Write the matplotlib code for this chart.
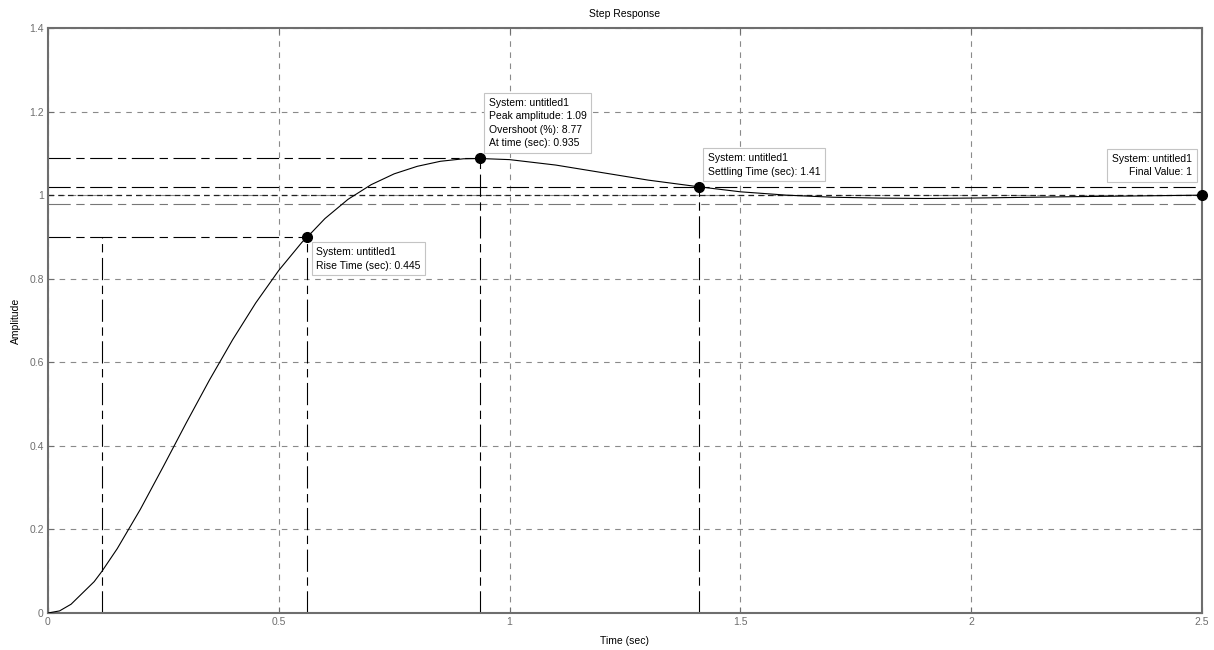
import matplotlib.pyplot as plt

plt.rcParams['font.family'] = ['Liberation Sans', 'DejaVu Sans']
plt.rcParams['font.size'] = 7.5
plt.rcParams['lines.scale_dashes'] = False

# step response samples
time = [0, 0.025, 0.05, 0.1, 0.117, 0.15, 0.2, 0.25, 0.3, 0.35, 0.4, 0.45, 0.5,
        0.55, 0.562, 0.6, 0.65, 0.7, 0.75, 0.8, 0.85, 0.9, 0.935, 1.0, 1.1,
        1.2, 1.3, 1.41, 1.5, 1.6, 1.7, 1.8, 1.9, 2.0, 2.2, 2.5]
amplitude = [0, 0.005, 0.021, 0.075, 0.100, 0.154, 0.248, 0.351, 0.456, 0.558,
             0.654, 0.742, 0.820, 0.887, 0.900, 0.944, 0.990, 1.025, 1.051,
             1.069, 1.081, 1.087, 1.0877, 1.085, 1.072, 1.054, 1.036, 1.020,
             1.008, 1.000, 0.995, 0.993, 0.992, 0.993, 0.996, 1.000]

# characteristics
rise_start, rise_end, rise_lo, rise_hi = 0.117, 0.562, 0.1, 0.9
rise_time = 0.445
peak_time, peak_amp, overshoot = 0.935, 1.0877, 8.77
settle_time, settle_hi, settle_lo = 1.41, 1.02, 0.98
final_value = 1.0
t_end = 2.5

fig = plt.figure(figsize=(12.14, 6.5), dpi=100)
ax = fig.add_axes([48 / 1214, 37 / 650, 1154 / 1214, 585 / 650])

ax.set_xlim(0, t_end)
ax.set_ylim(0, 1.4)
ax.set_xticks([0, 0.5, 1, 1.5, 2, 2.5])
ax.set_xticklabels(['0', '0.5', '1', '1.5', '2', '2.5'])
ax.set_yticks([0, 0.2, 0.4, 0.6, 0.8, 1, 1.2, 1.4])
ax.set_yticklabels(['0', '0.2', '0.4', '0.6', '0.8', '1', '1.2', '1.4'])

grey = '#6e6e6e'
for s in ax.spines.values():
    s.set_color(grey)
    s.set_linewidth(1.5)
ax.tick_params(direction='in', length=4, width=0.8, colors=grey,
               top=True, right=True, labelsize=7.5, pad=3)
ax.grid(True, color='#8a8a8a', linestyle=(0, (4, 4)), linewidth=0.8)
ax.set_axisbelow(True)

dashdot = (0, (16, 4, 6, 4))
kw = dict(color='black', linewidth=0.8, linestyle=dashdot, zorder=2)

# final value and settling bounds
ax.axhline(final_value, color='#222222', linewidth=0.9, linestyle=(0, (4, 3)), zorder=2)
ax.axhline(settle_hi, **kw)
ax.axhline(settle_lo, color='#777777', linewidth=0.8, linestyle=dashdot, zorder=2)

# rise time markers
ax.plot([0, rise_end], [rise_hi, rise_hi], **kw)
ax.plot([rise_start, rise_start], [0, rise_hi], **kw)
ax.plot([rise_end, rise_end], [0, rise_hi], **kw)

# peak markers
ax.plot([0, peak_time], [peak_amp, peak_amp], **kw)
ax.plot([peak_time, peak_time], [0, peak_amp], **kw)

# settling marker
ax.plot([settle_time, settle_time], [0, settle_hi], **kw)

ax.plot(time, amplitude, color='black', linewidth=0.8, zorder=3)

pts_t = [rise_end, peak_time, settle_time, t_end]
pts_y = [rise_hi, peak_amp, settle_hi, final_value]
ax.plot(pts_t, pts_y, 'o', color='black', markersize=7, zorder=5, clip_on=False)

box = dict(boxstyle='square,pad=0.45', facecolor='white', edgecolor='#c4c4c4', linewidth=0.8)
akw = dict(textcoords='offset pixels', fontsize=7.5, bbox=box, zorder=6,
           linespacing=1.45, annotation_clip=False)

ax.annotate(f'System: untitled1\nRise Time (sec): {rise_time}',
            xy=(rise_end, rise_hi), xytext=(9, -10), ha='left', va='top', **akw)
ax.annotate(f'System: untitled1\nPeak amplitude: {peak_amp:.2f}\n'
            f'Overshoot (%): {overshoot}\nAt time (sec): {peak_time}',
            xy=(peak_time, peak_amp), xytext=(9, 10), ha='left', va='bottom', **akw)
ax.annotate(f'System: untitled1\nSettling Time (sec): {settle_time}',
            xy=(settle_time, settle_hi), xytext=(9, 10), ha='left', va='bottom', **akw)
ax.annotate(f'System: untitled1\nFinal Value: {final_value:g}',
            xy=(t_end, final_value), xytext=(-10, 18), ha='right', va='bottom',
            multialignment='right', **akw)

ax.set_title('Step Response', fontsize=7.5, pad=8)
ax.set_xlabel('Time (sec)', fontsize=7.5, labelpad=6)
ax.set_ylabel('Amplitude', fontsize=7.5, labelpad=6)

fig.savefig('out.png', dpi=100)
